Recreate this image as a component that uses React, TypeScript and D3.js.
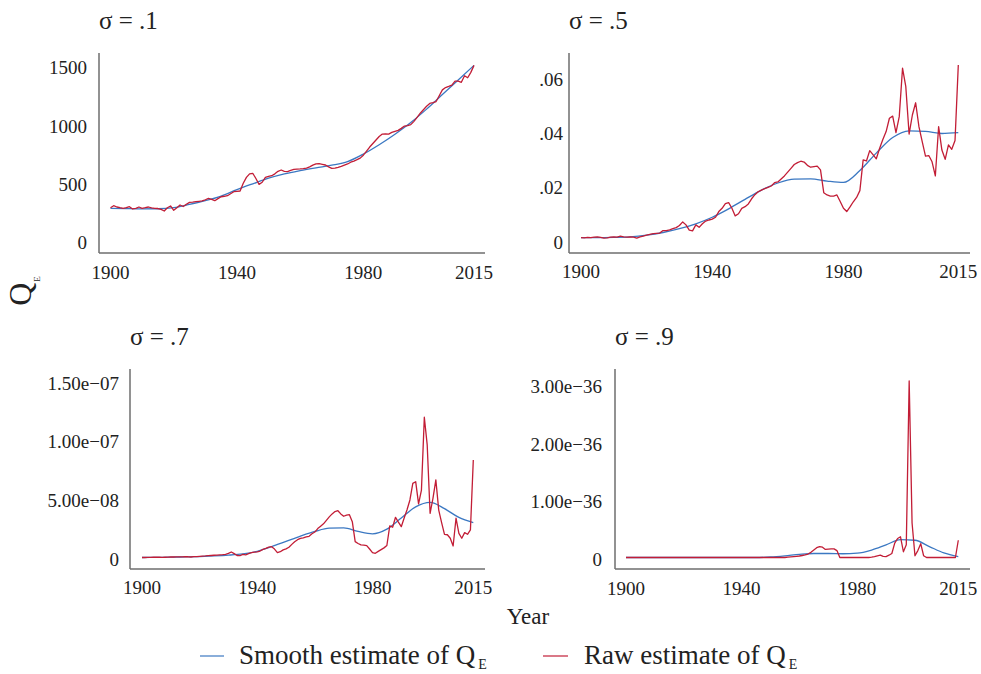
import React from "react";
import * as d3 from "d3";

// ---------- DATA ----------
const years = d3.range(1900, 2016);
const smoothYears = d3.range(1900, 2016, 5);
const xTicks = [1900, 1940, 1980, 2015];
const titles = ["σ = .1", "σ = .5", "σ = .7", "σ = .9"];

// σ = .1 (units of 1)
const raw1 = [
  300, 317, 306, 300, 295, 300, 309, 289, 295, 306,
  295, 300, 306, 298, 295, 293, 285, 272, 300, 315,
  278, 300, 323, 310, 330, 346, 348, 352, 355, 358,
  368, 380, 372, 360, 378, 394, 398, 403, 420, 437,
  440, 443, 509, 560, 590, 595, 550, 500, 518, 560,
  568, 574, 590, 612, 623, 612, 610, 620, 628, 630,
  632, 635, 640, 650, 665, 676, 677, 672, 666, 650,
  637, 640, 646, 655, 665, 675, 690, 700, 712, 725,
  750, 785, 820, 850, 880, 910, 931, 932, 931, 945,
  955, 963, 980, 1000, 1004, 1012, 1040, 1075, 1110, 1140,
  1170, 1194, 1200, 1210, 1260, 1310, 1330, 1340, 1351, 1385,
  1385, 1375, 1431, 1414, 1460, 1520,
];
const smooth1 = [295, 292, 290, 291, 300, 328, 360, 400, 455, 505, 553, 590, 618, 642, 664, 695, 760, 840, 930, 1030, 1145, 1270, 1395, 1520];
const yTicks1 = [0, 500, 1000, 1500];
const yLabels1 = ["0", "500", "1000", "1500"];

// σ = .5 (units of 1e-3)
const raw2 = [
  1.7, 1.6, 1.8, 1.7, 1.9, 2.0, 1.8, 1.5, 1.6, 1.9,
  2.0, 1.9, 2.3, 2.0, 1.9, 2.0, 1.9, 1.5, 2.0, 2.3,
  2.6, 2.9, 3.2, 3.3, 3.4, 4.3, 4.3, 4.6, 5.0, 5.4,
  6.2, 7.5, 6.4, 4.5, 4.2, 6.4, 5.5, 6.8, 7.8, 8.2,
  8.5, 9.2, 11.3, 12.5, 14.2, 14.6, 12.5, 9.7, 10.5, 12.5,
  13.1, 14.1, 16.0, 17.5, 18.6, 19.2, 19.7, 20.2, 20.7, 21.9,
  22.2, 23.3, 24.4, 25.8, 27.2, 28.6, 29.3, 29.8, 29.5, 28.3,
  27.6, 27.8, 28.0, 26.6, 18.2, 17.4, 17.0, 17.0, 17.4, 15.0,
  12.5, 11.3, 13.0, 14.9, 16.5, 19.0, 30.3, 29.9, 33.7, 32.2,
  30.7, 34.5, 37.8, 40.7, 45.6, 46.4, 40.3, 46.2, 64.0, 57.2,
  39.8, 46.8, 51.3, 42.5, 37.0, 31.7, 31.9, 29.6, 24.4, 42.5,
  33.9, 30.5, 35.8, 34.2, 37.4, 65.2,
];
const smooth2 = [1.7, 1.7, 1.8, 2.0, 2.6, 3.6, 5.0, 6.8, 9.2, 12.3, 15.8, 19.2, 21.8, 23.2, 23.3, 22.5, 22.0, 26.4, 32.8, 38.5, 41.0, 40.8, 40.0, 40.3];
const yTicks2 = [0, 0.02, 0.04, 0.06];
const yLabels2 = ["0", ".02", ".04", ".06"];

// σ = .7 (units of 1e-9)
const raw3 = [
  1.3, 1.3, 1.4, 1.4, 1.5, 1.5, 1.5, 1.4, 1.5, 1.6,
  1.7, 1.7, 1.8, 1.8, 1.8, 1.9, 1.9, 1.7, 2.0, 2.1,
  2.3, 2.5, 2.6, 2.8, 3.0, 3.2, 3.3, 3.5, 3.7, 4.0,
  4.8, 6.0, 4.6, 3.0, 2.8, 4.0, 3.6, 4.6, 5.4, 5.8,
  6.0, 6.8, 8.2, 9.0, 10.2, 10.5, 8.5, 5.5, 6.2, 7.8,
  8.6, 10.0, 12.5, 14.8, 16.5, 17.6, 18.0, 18.8, 19.4, 21.5,
  23.0, 26.0, 28.0, 30.0, 33.0, 36.0, 38.5, 40.5, 41.2, 38.5,
  36.5, 37.5, 37.8, 31.9, 14.8, 13.2, 12.0, 11.8, 11.4, 8.5,
  5.5, 4.9, 6.5, 8.0, 9.5, 11.5, 28.2, 27.1, 35.6, 31.5,
  27.6, 35.0, 42.0, 50.4, 64.6, 66.0, 47.0, 58.9, 121.0, 97.4,
  39.0, 51.8, 67.5, 41.8, 31.0, 21.1, 20.7, 17.7, 11.1, 34.8,
  21.9, 17.7, 22.5, 21.1, 24.8, 84.5,
];
const smooth3 = [1.3, 1.4, 1.6, 1.8, 2.1, 2.6, 3.3, 4.4, 6.6, 10.5, 15.0, 19.5, 23.5, 26.3, 26.5, 23.5, 21.5, 25.5, 35.0, 44.5, 48.3, 43.0, 35.5, 31.0];
const yTicks3 = [0, 5e-8, 1e-7, 1.5e-7];
const yLabels3 = ["0", "5.00e\u221208", "1.00e\u221207", "1.50e\u221207"];

// σ = .9 (units of 1e-38)
const raw4 = [
  0, 0, 0, 0, 0, 0, 0, 0, 0, 0,
  0, 0, 0, 0, 0, 0, 0, 0, 0, 0,
  0, 0, 0, 0, 0, 0, 0, 0, 0, 0,
  0, 0, 0, 0, 0, 0, 0, 0, 0, 0,
  0, 0, 0, 0, 0, 0, 0, 0, 0, 0,
  0, 0, 0, 0, 0, 0, 0.5, 1, 1.5, 2,
  2.6, 3.5, 4.5, 6, 9, 13, 17, 19, 18, 14,
  14.5, 15, 15, 12, 0, 0, 0, 0, 0, 0,
  0, 0, 0, 0, 0, 0.5, 1.5, 3, 4, 2,
  1.5, 4, 7, 25, 33, 36, 10, 22, 307, 60,
  3, 12, 24, 3, 0, 0, 0, 0, 0, 0,
  0, 0, 0, 0, 0, 30,
];
const smooth4 = [0, 0, 0, 0, 0, 0, 0, 0, 0, 0, 1, 3, 5.5, 7, 7, 6.5, 7.5, 13, 22, 31, 30, 19, 8, 1.5];
const yTicks4 = [0, 1e-36, 2e-36, 3e-36];
const yLabels4 = ["0", "1.00e\u221236", "2.00e\u221236", "3.00e\u221236"];

const units = [1, 1e-3, 1e-9, 1e-38];
const raws = [raw1, raw2, raw3, raw4];
const smooths = [smooth1, smooth2, smooth3, smooth4];
const yTicksAll = [yTicks1, yTicks2, yTicks3, yTicks4];
const yLabelsAll = [yLabels1, yLabels2, yLabels3, yLabels4];

// ---------- LAYOUT ----------
const layout = [
  { axisX: 99, top: 53, bottom: 253, right: 485, x0: 110.5, x1: 474, y0: 242.7, y1: 67.7, gap: 12, labDy: 0, titleY: 29, xLabY: 278.5 },
  { axisX: 569, top: 53, bottom: 253, right: 970, x0: 581, x1: 958.3, y0: 242.3, y1: 79.1, gap: 6, labDy: 0, titleY: 29, xLabY: 278 },
  { axisX: 130, top: 369, bottom: 569, right: 485, x0: 142, x1: 473.3, y0: 559, y1: 383.3, gap: 11, labDy: 0, titleY: 345, xLabY: 594 },
  { axisX: 615, top: 369, bottom: 569, right: 970, x0: 626, x1: 958.3, y0: 557.5, y1: 385, gap: 13, labDy: 1.5, titleY: 345, xLabY: 594.5 },
];

const BLUE = "#3b78c2";
const RED = "#c21d36";
const AXIS = "#6e6e6e";
const TEXT = "#222";
const FONT = "'Liberation Serif', 'Times New Roman', serif";

function Panel({ i }: { i: number }) {
  const L = layout[i];
  const ticks = yTicksAll[i];
  const unit = units[i];
  const x = d3.scaleLinear().domain([1900, 2015]).range([L.x0, L.x1]);
  const y = d3.scaleLinear().domain([0, ticks[ticks.length - 1]]).range([L.y0, L.y1]);
  const rawLine = d3
    .line<number>()
    .x((_, k) => x(years[k]))
    .y((d) => y(d * unit));
  const smoothLine = d3
    .line<number>()
    .x((_, k) => x(smoothYears[k]))
    .y((d) => y(d * unit))
    .curve(d3.curveMonotoneX);
  return (
    <g>
      <text x={L.axisX} y={L.titleY} fontSize={25} fill={TEXT} fontFamily={FONT}>
        {titles[i]}
      </text>
      <line x1={L.axisX} x2={L.axisX} y1={L.top} y2={L.bottom} stroke={AXIS} strokeWidth={1.5} />
      <line x1={L.axisX} x2={L.right} y1={L.bottom} y2={L.bottom} stroke={AXIS} strokeWidth={1.5} />
      {ticks.map((t, k) => (
        <text
          key={"y" + k}
          x={L.axisX - L.gap}
          y={y(t) + L.labDy}
          textAnchor="end"
          dominantBaseline="central"
          fontSize={19}
          fill={TEXT}
          fontFamily={FONT}
        >
          {yLabelsAll[i][k]}
        </text>
      ))}
      {xTicks.map((t) => (
        <text key={"x" + t} x={x(t)} y={L.xLabY} textAnchor="middle" fontSize={19} fill={TEXT} fontFamily={FONT}>
          {t}
        </text>
      ))}
      <path d={smoothLine(smooths[i]) || ""} fill="none" stroke={BLUE} strokeWidth={1.3} />
      <path d={rawLine(raws[i]) || ""} fill="none" stroke={RED} strokeWidth={1.3} strokeLinejoin="round" />
    </g>
  );
}

export default function App() {
  return (
    <svg
      width={981}
      height={674}
      viewBox="0 0 981 674"
      style={{ position: "absolute", left: 0, top: 0, background: "#fff" }}
    >
      <rect width={981} height={674} fill="#fff" />
      {[0, 1, 2, 3].map((i) => (
        <Panel key={i} i={i} />
      ))}
      <text transform="translate(31,291) rotate(-90)" textAnchor="middle" fontSize={32} fill={TEXT} fontFamily={FONT}>
        Q
        <tspan fontSize={9} dy={9} dx={1}>
          E
        </tspan>
      </text>
      <text x={528} y={624} textAnchor="middle" fontSize={23} fill={TEXT} fontFamily={FONT}>
        Year
      </text>
      <line x1={200} x2={224} y1={656} y2={656} stroke={BLUE} strokeWidth={1.2} />
      <text x={239} y={664} fontSize={27} fill={TEXT} fontFamily={FONT}>
        Smooth estimate of Q
        <tspan fontSize={14} dy={5} dx={3}>E</tspan>
      </text>
      <line x1={543} x2={568} y1={656} y2={656} stroke={RED} strokeWidth={1.2} />
      <text x={584} y={664} fontSize={27} fill={TEXT} fontFamily={FONT}>
        Raw estimate of Q
        <tspan fontSize={14} dy={5} dx={3}>E</tspan>
      </text>
    </svg>
  );
}
